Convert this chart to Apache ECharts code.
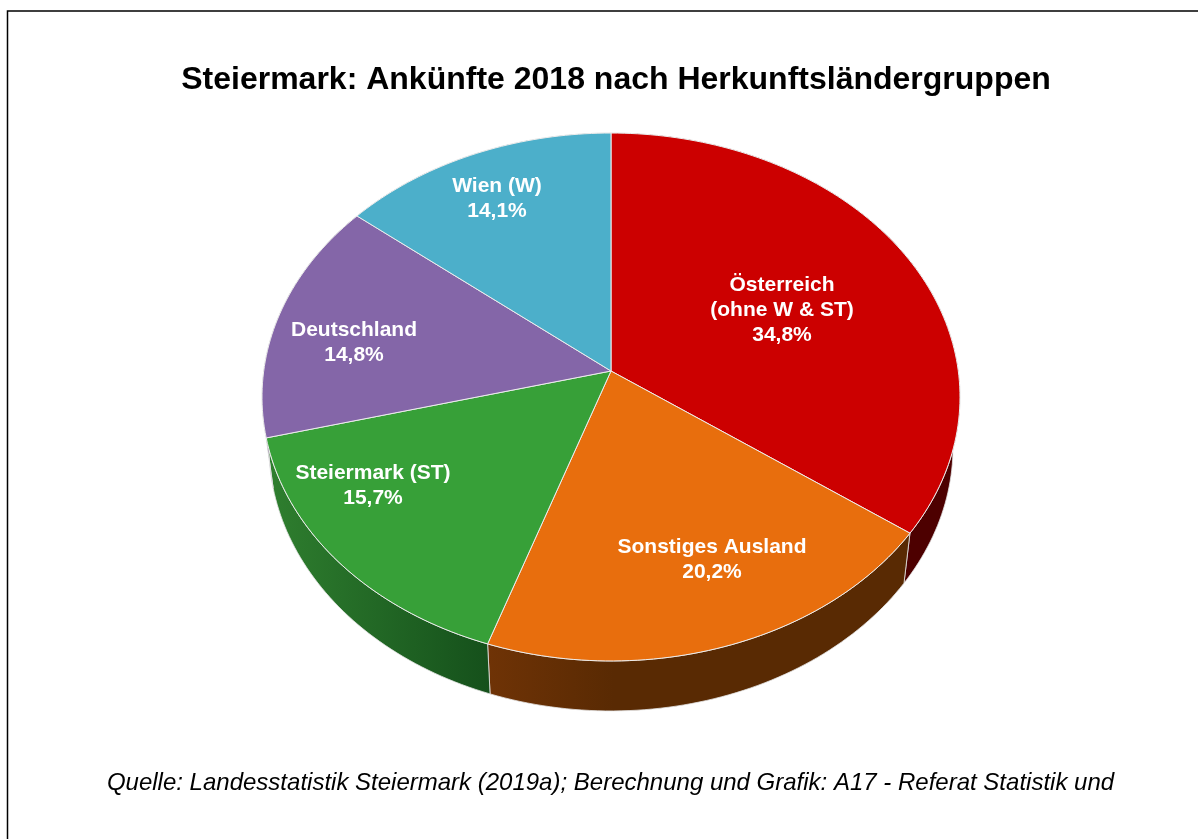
<!DOCTYPE html>
<html>
<head>
<meta charset="utf-8">
<title>Steiermark: Ankünfte 2018</title>
<script src="https://cdn.jsdelivr.net/npm/echarts@6/dist/echarts.min.js"></script>
<style>
  html, body { margin: 0; padding: 0; background: #fff; }
  #chart { width: 1198px; height: 839px; }
</style>
</head>
<body>
<div id="chart"></div>
<script>
var categories = ['Österreich\n(ohne W & ST)', 'Sonstiges Ausland', 'Steiermark (ST)', 'Deutschland', 'Wien (W)'];
var shares = [34.8, 20.2, 15.7, 14.8, 14.1];
var shareLabels = ['34,8%', '20,2%', '15,7%', '14,8%', '14,1%'];

var topColors = ['#cc0000', '#e86e0d', '#37a038', '#8466a8', '#4cafca'];
var wallFrom = ['#4d0000', '#6f3306', '#2f7f2f', '#5a4672', '#347a8c'];
var wallTo = ['#4d0000', '#592a03', '#15501b', '#5a4672', '#347a8c'];
var wallFade = [1, 0.3, 1, 1, 1];
var labelAt = [[782, 310], [712, 560], [373, 486], [354, 343], [497, 199]];

// the tilted disc: a circle seen in perspective, near edge drawn bigger
var apex = [611, 371];
var radX = 347.3;
var radY = 261.4;
var persp = 0.0985;
var depth = 50;
var shrink = 0.98;

function rimPoint(frac) {
  var a = frac * Math.PI * 2;
  var u = Math.sin(a), v = -Math.cos(a);
  var w = 1 - persp * v;
  return [apex[0] + radX * u / w, apex[1] + radY * v / w];
}

function lowerPoint(p) {
  return [apex[0] + (p[0] - apex[0]) * shrink, p[1] + depth];
}

function arcPoints(from, to) {
  var pts = [];
  var n = Math.ceil((to - from) * 300);
  for (var i = 0; i <= n; i++) {
    pts.push(rimPoint(from + (to - from) * i / n));
  }
  return pts;
}

// rounded shares add up to 99.6, the slices still have to close the disc
var total = shares.reduce(function (a, b) { return a + b; }, 0);
var starts = [];
var sum = 0;
shares.forEach(function (s) { starts.push(sum / total); sum += s; });

function renderWall(params, api) {
  var i = params.dataIndex;
  var rim = arcPoints(starts[i], starts[i] + shares[i] / total);
  var low = rim.map(lowerPoint).reverse();
  return {
    type: 'polygon',
    shape: { points: rim.concat(low) },
    style: {
      fill: new echarts.graphic.LinearGradient(0, 0, 1, 0, [
        { offset: 0, color: wallFrom[i] },
        { offset: wallFade[i], color: wallTo[i] },
        { offset: 1, color: wallTo[i] }
      ]),
      stroke: '#e4e4e4',
      lineWidth: 0.8
    }
  };
}

function renderTop(params, api) {
  var i = params.dataIndex;
  var rim = arcPoints(starts[i], starts[i] + shares[i] / total);
  return {
    type: 'group',
    children: [
      {
        type: 'polygon',
        shape: { points: [apex].concat(rim) },
        style: { fill: topColors[i], stroke: '#ececec', lineWidth: 1 }
      },
      {
        type: 'text',
        z2: 10,
        style: {
          x: labelAt[i][0],
          y: labelAt[i][1],
          text: categories[i] + '\n' + shareLabels[i],
          fill: '#fff',
          font: 'bold 21px "Liberation Sans", Arial, sans-serif',
          lineHeight: 25,
          align: 'center',
          verticalAlign: 'middle'
        }
      }
    ]
  };
}

var chart = echarts.init(document.getElementById('chart'));
chart.setOption({
  animation: false,
  title: {
    text: 'Steiermark: Ankünfte 2018 nach Herkunftsländergruppen',
    left: 611,
    top: 59,
    textAlign: 'center',
    textStyle: { fontFamily: 'Liberation Sans', fontWeight: 'bold', fontSize: 32, color: '#000' }
  },
  graphic: [
    {
      type: 'polyline',
      shape: { points: [[7.5, 839], [7.5, 11], [1198, 11]] },
      style: { stroke: '#000', lineWidth: 1.5, fill: null }
    },
    {
      type: 'text',
      x: 610.5,
      y: 783,
      style: {
        text: 'Quelle: Landesstatistik Steiermark (2019a); Berechnung und Grafik: A17 - Referat Statistik und',
        font: 'italic 24px "Liberation Sans", Arial, sans-serif',
        fill: '#000',
        align: 'center',
        verticalAlign: 'middle'
      }
    }
  ],
  series: [
    { type: 'custom', coordinateSystem: 'none', data: shares, renderItem: renderWall, z: 1, silent: true },
    { type: 'custom', coordinateSystem: 'none', data: shares, renderItem: renderTop, z: 2, silent: true }
  ]
});
</script>
</body>
</html>
